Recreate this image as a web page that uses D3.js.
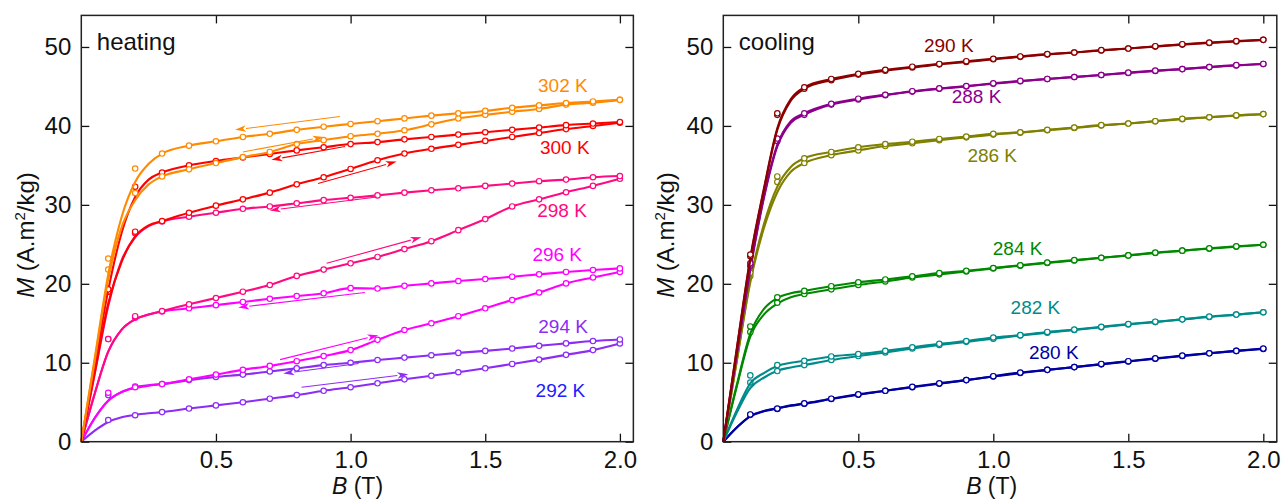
<!DOCTYPE html>
<html>
<head>
<meta charset="utf-8">
<script src="https://cdn.jsdelivr.net/npm/d3@7"></script>
<style>
  body { margin: 0; background: #fff; }
  text { font-family: "Liberation Sans", Arial, sans-serif; }
</style>
</head>
<body>
<script>
// measured field steps (T) and the low-field grid of the smooth fit
const fields = [0.1, 0.2, 0.3, 0.4, 0.5, 0.6, 0.7, 0.8, 0.9, 1.0,
                1.1, 1.2, 1.3, 1.4, 1.5, 1.6, 1.7, 1.8, 1.9, 2.0];
const fitFields = [0, 0.05, 0.1, 0.15, 0.2, 0.25];

const xTicks = [0.5, 1.0, 1.5, 2.0];
const yTicks = [0, 10, 20, 30, 40, 50];

// ---- heating (M in A.m2/kg) ----
const h302down = [23.2, 34.6, 36.5, 37.5, 38.05, 38.6, 39.0, 39.5, 39.9, 40.25, 40.6, 40.95, 41.3, 41.6, 41.9, 42.3, 42.6, 42.9, 43.1, 43.3];
const h302up   = [21.8, 31.5, 33.6, 34.5, 35.3, 36.05, 36.7, 37.7, 38.2, 38.7, 39.0, 39.45, 40.2, 40.95, 41.4, 41.8, 42.15, 42.7, 42.95, 43.3];
const h300down = [19.3, 32.3, 34.1, 35.0, 35.55, 36.0, 36.45, 36.9, 37.3, 37.7, 37.95, 38.3, 38.6, 38.9, 39.2, 39.5, 39.8, 40.1, 40.3, 40.5];
const h300up   = [19.0, 26.6, 27.95, 29.0, 29.9, 30.7, 31.55, 32.6, 33.5, 34.55, 35.65, 36.5, 37.1, 37.6, 38.1, 38.6, 39.1, 39.6, 40.0, 40.4];
const h298down = [19.0, 26.4, 27.9, 28.5, 29.0, 29.5, 29.8, 30.2, 30.6, 30.9, 31.2, 31.55, 31.85, 32.1, 32.4, 32.7, 33.0, 33.2, 33.5, 33.65];
const h298up   = [13.0, 15.9, 16.55, 17.4, 18.2, 19.0, 19.85, 21.0, 21.8, 22.6, 23.4, 24.4, 25.4, 26.8, 28.2, 29.8, 30.7, 31.6, 32.4, 33.3];
const h296down = [13.0, 15.7, 16.5, 16.9, 17.3, 17.7, 18.1, 18.45, 18.8, 19.45, 19.4, 19.75, 20.05, 20.35, 20.6, 20.9, 21.2, 21.5, 21.75, 21.95];
const h296up   = [6.2, 6.9, 7.3, 7.9, 8.5, 9.1, 9.6, 10.2, 10.85, 11.6, 12.9, 14.15, 15.0, 15.9, 16.9, 17.95, 18.9, 20.05, 20.8, 21.5];
const h294down = [5.9, 7.0, 7.3, 7.8, 8.2, 8.5, 8.9, 9.3, 9.7, 10.0, 10.35, 10.65, 10.95, 11.25, 11.5, 11.8, 12.15, 12.45, 12.75, 12.95];
const h294up   = [2.75, 3.35, 3.75, 4.2, 4.6, 5.0, 5.45, 5.9, 6.45, 6.9, 7.4, 7.9, 8.35, 8.8, 9.3, 9.85, 10.4, 11.0, 11.6, 12.45];

// smooth low-field fits (B = 0 .. 0.25)
const h302downFit = [0, 10.6, 21.2, 28.5, 32.9, 35.2];
const h302upFit   = [0, 10.3, 20.6, 27.2, 30.6, 32.6];
const h300downFit = [0, 9.6, 19.2, 26.5, 31.0, 33.2];
const h300upFit   = [0, 8.8, 17.5, 22.8, 26.0, 27.4];
const h298downFit = [0, 8.6, 17.2, 23.0, 25.9, 27.3];
const h298upFit   = [0, 6.1, 11.4, 14.2, 15.5, 16.1];
const h296downFit = [0, 6.1, 11.4, 14.2, 15.5, 16.1];
const h296upFit   = [0, 3.0, 5.2, 6.3, 6.8, 7.1];
const h294downFit = [0, 3.0, 5.2, 6.3, 6.9, 7.15];
const h294upFit   = [0, 1.4, 2.5, 3.1, 3.4, 3.6];

// ---- cooling ----
const c290a = [23.7, 41.6, 44.9, 45.95, 46.6, 47.1, 47.5, 47.85, 48.2, 48.5, 48.8, 49.1, 49.3, 49.6, 49.8, 50.1, 50.35, 50.55, 50.75, 50.9];
const c290b = [23.5, 41.4, 44.7, 45.8, 46.5, 47.0, 47.4, 47.8, 48.1, 48.45, 48.75, 49.05, 49.3, 49.55, 49.8, 50.05, 50.3, 50.5, 50.7, 50.9];
const c288a = [22.6, 38.4, 41.6, 42.8, 43.45, 43.95, 44.4, 44.75, 45.05, 45.4, 45.7, 45.95, 46.2, 46.45, 46.75, 47.0, 47.2, 47.45, 47.7, 47.85];
const c288b = [22.3, 38.1, 41.4, 42.7, 43.35, 43.9, 44.35, 44.7, 45.0, 45.35, 45.65, 45.95, 46.2, 46.45, 46.7, 46.95, 47.2, 47.45, 47.65, 47.85];
const c286a = [21.4, 33.6, 35.9, 36.7, 37.3, 37.7, 38.0, 38.35, 38.65, 39.0, 39.2, 39.5, 39.8, 40.1, 40.3, 40.6, 40.9, 41.1, 41.35, 41.5];
const c286b = [21.0, 32.9, 35.3, 36.3, 36.9, 37.45, 37.8, 38.2, 38.55, 38.9, 39.15, 39.45, 39.75, 40.05, 40.3, 40.6, 40.85, 41.1, 41.3, 41.5];
const c284a = [14.6, 18.3, 19.1, 19.7, 20.2, 20.55, 20.95, 21.35, 21.65, 22.0, 22.35, 22.7, 23.0, 23.3, 23.6, 23.95, 24.2, 24.5, 24.75, 24.95];
const c284b = [13.9, 17.6, 18.7, 19.3, 19.85, 20.3, 20.8, 21.2, 21.55, 21.95, 22.3, 22.65, 22.95, 23.3, 23.6, 23.9, 24.2, 24.45, 24.7, 24.95];
const c282a = [8.4, 9.7, 10.25, 10.8, 11.1, 11.5, 11.95, 12.4, 12.75, 13.2, 13.5, 13.9, 14.2, 14.55, 14.9, 15.2, 15.5, 15.85, 16.1, 16.4];
const c282b = [7.5, 8.95, 9.7, 10.35, 10.85, 11.3, 11.8, 12.25, 12.65, 13.05, 13.45, 13.8, 14.15, 14.5, 14.85, 15.15, 15.5, 15.8, 16.1, 16.4];
const c280a = [3.45, 4.2, 4.85, 5.45, 6.0, 6.45, 6.95, 7.4, 7.8, 8.3, 8.75, 9.1, 9.45, 9.85, 10.2, 10.55, 10.9, 11.2, 11.5, 11.8];
const c280b = [3.4, 4.15, 4.8, 5.4, 5.95, 6.45, 6.9, 7.35, 7.8, 8.25, 8.7, 9.1, 9.45, 9.8, 10.15, 10.5, 10.85, 11.2, 11.5, 11.75];

const c290aFit = [0, 11.8, 23.3, 32.0, 39.7, 43.4];
const c290bFit = [0, 11.7, 23.1, 31.8, 39.5, 43.2];
const c288aFit = [0, 11.2, 22.0, 31.0, 37.6, 40.6];
const c288bFit = [0, 11.1, 21.8, 30.8, 37.4, 40.4];
const c286aFit = [0, 10.3, 20.5, 27.5, 32.3, 34.8];
const c286bFit = [0, 10.2, 20.2, 27.0, 31.6, 34.2];
const c284aFit = [0, 7.2, 13.7, 16.8, 18.2, 18.8];
const c284bFit = [0, 7.0, 13.3, 16.1, 17.5, 18.3];
const c282aFit = [0, 4.0, 7.4, 8.7, 9.6, 10.0];
const c282bFit = [0, 3.7, 6.8, 8.1, 9.0, 9.4];
const c280aFit = [0, 1.8, 3.25, 3.9, 4.25, 4.6];
const c280bFit = [0, 1.8, 3.2, 3.85, 4.2, 4.55];

const col = {
  k302: '#ff8a00', k300: '#ff0000', k298: '#ff0a80', k296: '#ff00ff', k294: '#8c2cf5', k292: '#2020ff',
  k290: '#8b0000', k288: '#8b008b', k286: '#808000', k284: '#008800', k282: '#008b8b', k280: '#0000a0'
};

const heating = [
  { c: col.k294, fit: h294upFit,   pts: h294up },
  { c: col.k294, fit: h294downFit, pts: h294down },
  { c: col.k296, fit: h296upFit,   pts: h296up },
  { c: col.k296, fit: h296downFit, pts: h296down },
  { c: col.k298, fit: h298upFit,   pts: h298up },
  { c: col.k298, fit: h298downFit, pts: h298down },
  { c: col.k300, fit: h300upFit,   pts: h300up },
  { c: col.k300, fit: h300downFit, pts: h300down },
  { c: col.k302, fit: h302upFit,   pts: h302up },
  { c: col.k302, fit: h302downFit, pts: h302down }
];

const cooling = [
  { c: col.k280, fit: c280bFit, pts: c280b }, { c: col.k280, fit: c280aFit, pts: c280a },
  { c: col.k282, fit: c282bFit, pts: c282b }, { c: col.k282, fit: c282aFit, pts: c282a },
  { c: col.k284, fit: c284bFit, pts: c284b }, { c: col.k284, fit: c284aFit, pts: c284a },
  { c: col.k286, fit: c286bFit, pts: c286b }, { c: col.k286, fit: c286aFit, pts: c286a },
  { c: col.k288, fit: c288bFit, pts: c288b }, { c: col.k288, fit: c288aFit, pts: c288a },
  { c: col.k290, fit: c290bFit, pts: c290b }, { c: col.k290, fit: c290aFit, pts: c290a }
];

// labels placed in data units [B, M]
const heatLabels = [
  { t: '302 K', c: col.k302, at: [1.696, 44.26] },
  { t: '300 K', c: col.k300, at: [1.703, 36.41] },
  { t: '298 K', c: col.k298, at: [1.693, 28.43] },
  { t: '296 K', c: col.k296, at: [1.675, 22.93] },
  { t: '294 K', c: col.k294, at: [1.697, 13.81] },
  { t: '292 K', c: col.k292, at: [1.687, 5.70] }
];
const coolLabels = [
  { t: '290 K', c: col.k290, at: [0.743, 49.33] },
  { t: '288 K', c: col.k288, at: [0.846, 42.94] },
  { t: '286 K', c: col.k286, at: [0.904, 35.39] },
  { t: '284 K', c: col.k284, at: [0.998, 23.65] },
  { t: '282 K', c: col.k282, at: [1.064, 16.18] },
  { t: '280 K', c: col.k280, at: [1.132, 10.44] }
];

// sweep-direction arrows (tail -> head), data units
const heatArrows = [
  { c: col.k302, from: [0.96, 41.2],  to: [0.571, 39.5] },
  { c: col.k302, from: [0.60, 36.7],  to: [0.90, 38.6] },
  { c: col.k300, from: [0.979, 37.4], to: [0.706, 35.7] },
  { c: col.k300, from: [0.879, 32.7], to: [1.171, 35.5] },
  { c: col.k298, from: [1.097, 31.0], to: [0.70, 29.3] },
  { c: col.k298, from: [0.911, 22.6], to: [1.263, 25.9] },
  { c: col.k296, from: [1.053, 18.9], to: [0.583, 17.0] },
  { c: col.k296, from: [0.738, 10.4], to: [1.103, 13.5] },
  { c: col.k294, from: [1.03, 9.9],   to: [0.75, 8.65] },
  { c: col.k294, from: [0.818, 6.9],  to: [1.214, 8.55] }
];

const W = 1283, H = 501;
const svg = d3.select('body').append('svg')
  .attr('width', W)
  .attr('height', H);

const y = d3.scaleLinear().domain([0, 54]).range([441.7, 15.4]);

function branch(fit, pts) {
  const low = fitFields.map((b, i) => [b, fit[i]]);
  const high = fields.map((b, i) => [b, pts[i]]).filter(d => d[0] > 0.29);
  return low.concat(high);
}

function drawPanel(opt) {
  const x = d3.scaleLinear().domain([0, 2.05]).range([opt.left, opt.left + 2.05 * opt.pxPerT]);
  const [x0, x1] = x.range();
  const [y0, y1] = y.range();
  const g = svg.append('g');

  const line = d3.line()
    .x(d => x(d[0]))
    .y(d => y(d[1]))
    .curve(d3.curveMonotoneX);

  // series
  opt.series.forEach(s => {
    g.append('path')
      .attr('d', line(branch(s.fit, s.pts)))
      .attr('fill', 'none')
      .attr('stroke', s.c)
      .attr('stroke-width', 2.1);
    g.selectAll(null)
      .data(fields.map((b, i) => [b, s.pts[i]]))
      .enter()
      .append('circle')
      .attr('cx', d => x(d[0]))
      .attr('cy', d => y(d[1]))
      .attr('r', 2.7)
      .attr('fill', '#fff')
      .attr('stroke', s.c)
      .attr('stroke-width', 1.2);
  });

  // arrows
  (opt.arrows || []).forEach(a => {
    const x1a = x(a.from[0]), y1a = y(a.from[1]);
    const x2a = x(a.to[0]), y2a = y(a.to[1]);
    const ang = Math.atan2(y2a - y1a, x2a - x1a);
    const L = 11, hw = 3.3;
    const bx = x2a - L * Math.cos(ang), by = y2a - L * Math.sin(ang);
    g.append('line')
      .attr('x1', x1a).attr('y1', y1a)
      .attr('x2', bx).attr('y2', by)
      .attr('stroke', a.c)
      .attr('stroke-width', 1.1);
    const pts = [
      [x2a, y2a],
      [bx + hw * Math.sin(ang), by - hw * Math.cos(ang)],
      [bx + 3 * Math.cos(ang), by + 3 * Math.sin(ang)],
      [bx - hw * Math.sin(ang), by + hw * Math.cos(ang)]
    ];
    g.append('polygon')
      .attr('points', pts.map(p => p.join(',')).join(' '))
      .attr('fill', a.c);
  });

  // temperature labels
  g.selectAll(null)
    .data(opt.labels)
    .enter()
    .append('text')
    .attr('x', d => x(d.at[0]))
    .attr('y', d => y(d.at[1]))
    .attr('fill', d => d.c)
    .attr('font-size', 19)
    .text(d => d.t);

  // axes, ticks inward on all four sides
  const styleAxis = sel => {
    sel.select('.domain').remove();
    sel.attr('font-size', 24).attr('font-family', '"Liberation Sans", Arial, sans-serif');
    sel.selectAll('.tick line').attr('stroke', '#111').attr('stroke-width', 1.3);
    sel.selectAll('.tick text').attr('fill', '#111');
  };
  g.append('g').attr('transform', `translate(0,${y0})`)
    .call(d3.axisBottom(x).tickValues(xTicks).tickFormat(d3.format('.1f')).tickSize(-8).tickPadding(9))
    .call(styleAxis);
  g.append('g').attr('transform', `translate(0,${y1})`)
    .call(d3.axisTop(x).tickValues(xTicks).tickFormat('').tickSize(-8))
    .call(styleAxis);
  g.append('g').attr('transform', `translate(${x0},0)`)
    .call(d3.axisLeft(y).tickValues(yTicks).tickSize(-8).tickPadding(10))
    .call(styleAxis);
  g.append('g').attr('transform', `translate(${x1},0)`)
    .call(d3.axisRight(y).tickValues(yTicks).tickFormat('').tickSize(-8))
    .call(styleAxis);

  g.append('rect')
    .attr('x', x0).attr('y', y1)
    .attr('width', x1 - x0).attr('height', y0 - y1)
    .attr('fill', 'none')
    .attr('stroke', '#222')
    .attr('stroke-width', 1.5);

  // panel title
  g.append('text')
    .attr('x', x0 + 15.5).attr('y', 50)
    .attr('font-size', 24)
    .attr('fill', '#111')
    .text(opt.title);

  // x title
  const xt = g.append('text')
    .attr('x', opt.xTitleX).attr('y', 494)
    .attr('text-anchor', 'middle')
    .attr('font-size', 23)
    .attr('fill', '#111');
  xt.append('tspan').attr('font-style', 'italic').text('B');
  xt.append('tspan').text(' (T)');

  // y title
  const yt = g.append('text')
    .attr('transform', `translate(${opt.yTitleX},235) rotate(-90)`)
    .attr('text-anchor', 'middle')
    .attr('font-size', 24)
    .attr('fill', '#111');
  yt.append('tspan').attr('font-style', 'italic').text('M');
  yt.append('tspan').text(' (A.m');
  yt.append('tspan').attr('font-size', 15).attr('dy', -9).text('2');
  yt.append('tspan').attr('dy', 9).text('/kg)');
}

drawPanel({
  left: 81.3, pxPerT: 269.3, series: heating, arrows: heatArrows, labels: heatLabels,
  title: 'heating', xTitleX: 357.5, yTitleX: 34
});
drawPanel({
  left: 723.3, pxPerT: 270, series: cooling, labels: coolLabels,
  title: 'cooling', xTitleX: 991.7, yTitleX: 674
});
</script>
</body>
</html>
